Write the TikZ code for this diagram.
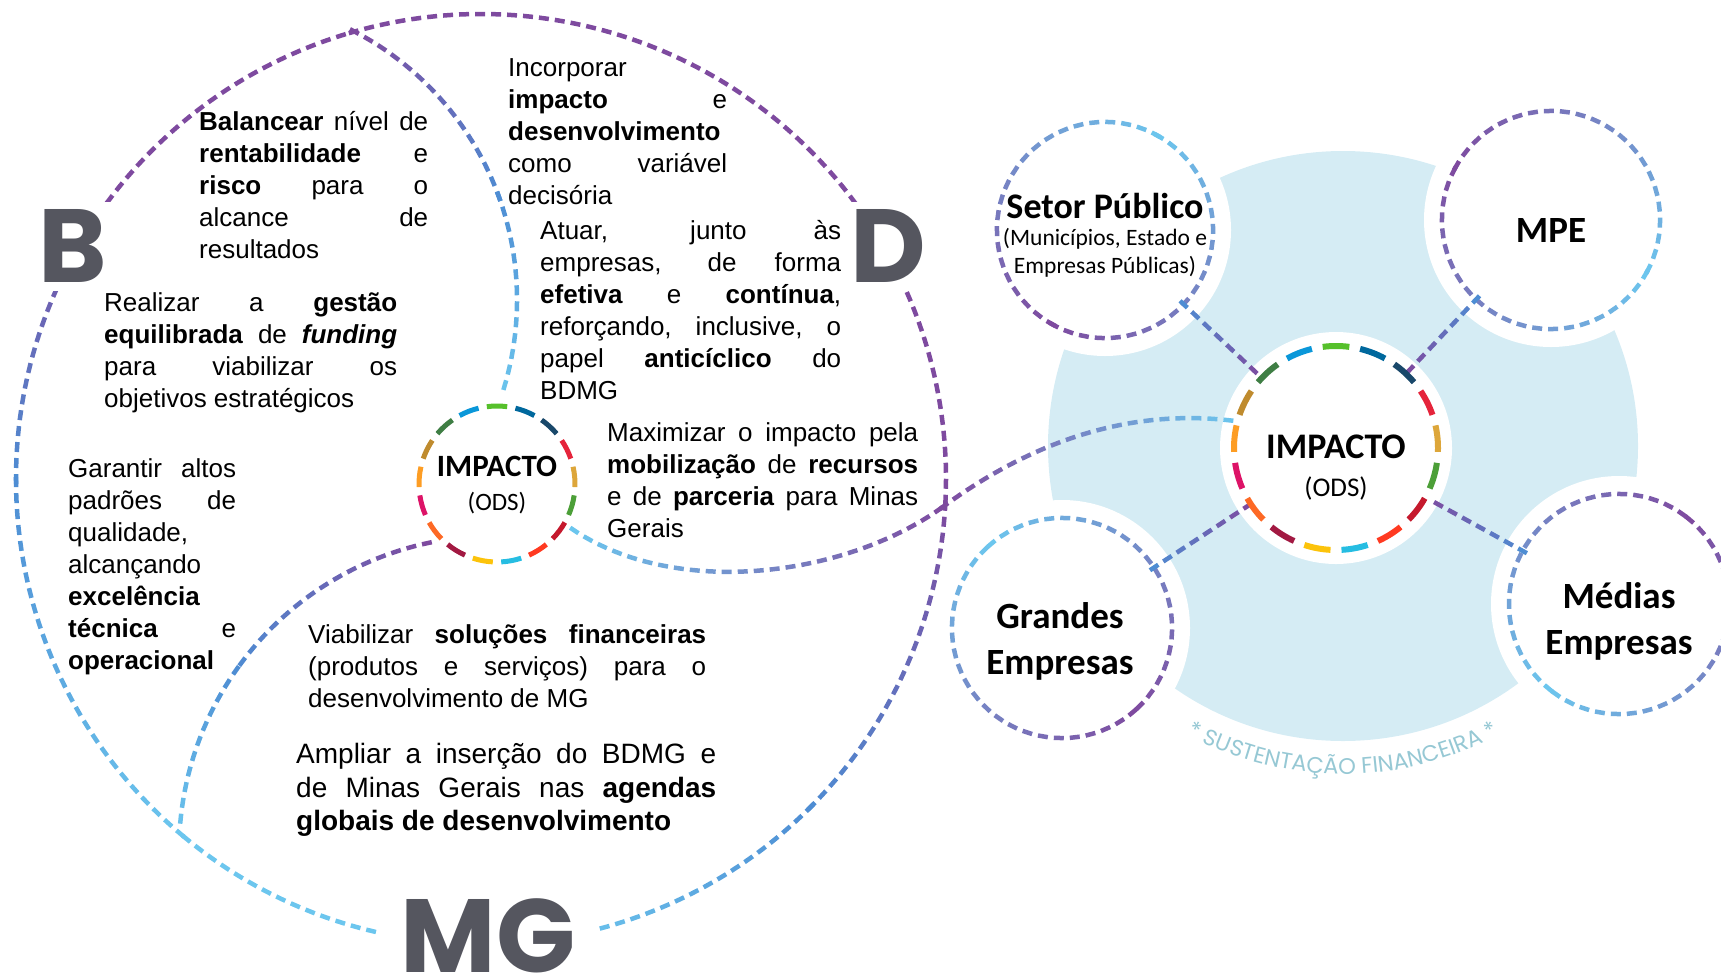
\documentclass[tikz,border=0pt]{standalone}
\usepackage{fontspec}
\setmainfont{Liberation Sans}
\newfontfamily\calfont{Carlito}
\newfontfamily\bigfont{Poppins}
\usetikzlibrary{calc,decorations.markings,decorations.text}

\definecolor{purp}{HTML}{7E4A9F}
\definecolor{mblue}{HTML}{4E8DD3}
\definecolor{lblue}{HTML}{6CC6EE}
\definecolor{blob}{HTML}{D5ECF4}
\definecolor{ltr}{HTML}{55565F}
\definecolor{sust}{HTML}{96C8D4}
\definecolor{sdg1}{HTML}{E5243B}
\definecolor{sdg2}{HTML}{DDA63A}
\definecolor{sdg3}{HTML}{4C9F38}
\definecolor{sdg4}{HTML}{C5192D}
\definecolor{sdg5}{HTML}{FF3A21}
\definecolor{sdg6}{HTML}{26BDE2}
\definecolor{sdg7}{HTML}{FCC30B}
\definecolor{sdg8}{HTML}{A21942}
\definecolor{sdg9}{HTML}{FD6925}
\definecolor{sdg10}{HTML}{DD1367}
\definecolor{sdg11}{HTML}{FD9D24}
\definecolor{sdg12}{HTML}{BF8B2E}
\definecolor{sdg13}{HTML}{3F7E44}
\definecolor{sdg14}{HTML}{0A97D9}
\definecolor{sdg15}{HTML}{56C02B}
\definecolor{sdg16}{HTML}{00689D}
\definecolor{sdg17}{HTML}{19486A}

\tikzset{
  grad/.style 2 args={postaction={decorate},
    decoration={markings, mark=between positions 0 and 1 step 16pt with {
      \pgfmathsetmacro\gp{100*(\pgfkeysvalueof{/pgf/decoration/mark info/distance from start}/\pgfdecoratedpathlength)}
      \draw[line width=4.5pt, color=#2!\gp!#1] (-5pt,0) -- (5pt,0);}}}
}
\def\dasharc[#1](#2)(#3:#4:#5){\path[#1] ($(#2)+(#3:#5)$) arc (#3:#4:#5);}
\def\satring(#1)(#2:#3)#4#5{\pgfmathsetmacro\ra{#2+180}\pgfmathsetmacro\rb{#2+360}%
  \dasharc[grad={#4}{#5}](#1)(#2:\ra:#3)\dasharc[grad={#5}{#4}](#1)(\ra:\rb:#3)}
\def\sdgring(#1)(#2)#3{\foreach \i in {1,...,17}{%
  \pgfmathsetmacro\sb{-97.5+(\i-15)*360/17}\pgfmathsetmacro\se{\sb+15}%
  \draw[sdg\i, line width=#3] ($(#1)+(\sb:#2)$) arc (\sb:\se:#2);}}

\begin{document}
\begin{tikzpicture}[x=1pt, y=-1pt,
  txt/.style={anchor=north west, inner sep=0pt, align=justify, font=\fontsize{26}{32}\selectfont},
  ring/.style={circle, inner sep=0pt},
  lbl/.style={inner sep=0pt, align=center},
  bigl/.style={fill=white, inner sep=8pt, text=ltr, font=\bigfont\bfseries\fontsize{104}{104}\selectfont}]
\useasboundingbox (0,0) rectangle (1721,975);

% circles
\node[ring, minimum size=180pt] (impL) at (497,484) {};
\node[ring, minimum size=208pt] (impR) at (1336,448) {};
\node[ring, minimum size=216pt] (setor) at (1105,230) {};
\node[ring, minimum size=218pt] (mpe) at (1551,220) {};
\node[ring, minimum size=220pt] (grandes) at (1062,628) {};
\node[ring, minimum size=220pt] (medias) at (1619,604) {};

% right side
\fill[blob] (1343,446) coordinate (blobc) circle (295);
\foreach \s/\r in {setor/126, mpe/127, grandes/128, medias/128, impR/116}
  \fill[white] (\s) circle (\r);
\satring(setor)(-60:108){lblue}{purp}
\satring(mpe)(30:109){lblue}{purp}
\satring(grandes)(-130:110){lblue}{purp}
\satring(medias)(130:110){lblue}{purp}
\foreach \s in {setor, mpe, grandes, medias}
  \path[grad={mblue}{purp}] (\s) -- (impR);

% left side
\coordinate (c0) at (481,479);
\dasharc[grad={purp}{purp}](c0)(-105.9:3.3:465)
\dasharc[grad={purp}{mblue}](c0)(3.3:45:465)
\dasharc[grad={mblue}{lblue}](c0)(45:80:465)
\dasharc[grad={lblue}{lblue}](c0)(80:130.3:465)
\dasharc[grad={lblue}{mblue}](c0)(130.3:180:465)
\dasharc[grad={mblue}{purp}](c0)(180:215:465)
\dasharc[grad={purp}{purp}](c0)(215:254.1:465)
\coordinate (c1) at (214,300);
\dasharc[grad={purp}{mblue}](c1)(-62.4:-20:303)
\dasharc[grad={mblue}{lblue}](c1)(-20:18.5:303)
\coordinate (c2) at (494,851);
\dasharc[grad={purp}{mblue}](c2)(257.7:215:315)
\dasharc[grad={mblue}{lblue}](c2)(215:183.1:315)
\coordinate (mid) at (944,506);
\path[grad={lblue}{purp}] (impL.-31) .. controls (680,600) and (850,575) .. (mid);
\path[grad={purp}{lblue}] (mid) .. controls (1010,458) and (1110,405) .. (impR.165);

\sdgring(impL)(78){5pt}
\sdgring(impR)(102){6pt}

\node[bigl] (lB) at (73,246) {B};
\node[bigl] (lD) at (888,246) {D};
\node[bigl, inner xsep=22pt] (lMG) at (488,936) {MG};

% texts
\node[txt, text width=229pt] (tBal) at (199,108) {\noindent\strut\textbf{Balancear} nível de\linebreak \textbf{rentabilidade} e\linebreak \textbf{risco} para o\linebreak alcance de\linebreak resultados};
\node[txt, text width=293pt] (tFund) at (104,289) {\noindent\strut Realizar a \textbf{gestão}\linebreak \textbf{equilibrada} de \textbf{\textit{funding}}\linebreak para viabilizar os\linebreak objetivos estratégicos};
\node[txt, text width=219pt] (tInc) at (508,54) {\noindent\strut Incorporar\linebreak \textbf{impacto} e\linebreak \textbf{desenvolvimento}\linebreak como variável\linebreak decisória};
\node[txt, text width=301pt] (tAtu) at (540,217) {\noindent\strut Atuar, junto às\linebreak empresas, de forma\linebreak \textbf{efetiva} e \textbf{contínua},\linebreak reforçando, inclusive, o\linebreak papel \textbf{anticíclico} do\linebreak BDMG};
\node[txt, text width=311pt] (tMax) at (607,419) {\noindent\strut Maximizar o impacto pela\linebreak \textbf{mobilização} de \textbf{recursos}\linebreak e de \textbf{parceria} para Minas\linebreak Gerais};
\node[txt, text width=168pt] (tGar) at (68,455) {\noindent\strut Garantir altos\linebreak padrões de\linebreak qualidade,\linebreak alcançando\linebreak \textbf{excelência}\linebreak \textbf{técnica} e\linebreak \textbf{operacional}};
\node[txt, text width=398pt] (tVia) at (308,621) {\noindent\strut Viabilizar \textbf{soluções financeiras}\linebreak (produtos e serviços) para o\linebreak desenvolvimento de MG};
\node[txt, text width=420pt, font=\fontsize{28}{33.5}\selectfont] (tAmp) at (296,740) {\noindent\strut Ampliar a inserção do BDMG e\linebreak de Minas Gerais nas \textbf{agendas}\linebreak \textbf{globais de desenvolvimento}};

% labels
\node[lbl, font=\calfont\bfseries\fontsize{31}{31}\selectfont] (impLt) at (497,466) {IMPACTO};
\node[lbl, font=\calfont\fontsize{25}{25}\selectfont] (impLs) at (497,503) {(ODS)};
\node[lbl, font=\calfont\bfseries\fontsize{36}{36}\selectfont] (impRt) at (1336,447) {IMPACTO};
\node[lbl, font=\calfont\fontsize{27}{27}\selectfont] (impRs) at (1336,488) {(ODS)};
\node[lbl, font=\calfont\bfseries\fontsize{36}{36}\selectfont] (setorT) at (1105,206) {Setor Público};
\node[lbl, font=\calfont\fontsize{23.5}{28}\selectfont] (setorS) at (1105,253) {(Municípios, Estado e\\Empresas Públicas)};
\node[lbl, font=\calfont\bfseries\fontsize{37}{37}\selectfont] (mpeT) at (1551,230) {MPE};
\node[lbl, font=\calfont\bfseries\fontsize{37}{46}\selectfont] (grandesT) at (1060,641) {Grandes\\Empresas};
\node[lbl, font=\calfont\bfseries\fontsize{37}{46}\selectfont] (mediasT) at (1619,621) {Médias\\Empresas};

\path[decorate, decoration={text along path, text align=center, text color=sust,
  text={|\bigfont\fontsize{22.5}{22.5}\selectfont|* SUSTENTAÇÃO FINANCEIRA *}}]
  ($(blobc)+(125:328)$) arc (125:55:328);
\end{tikzpicture}
\end{document}
